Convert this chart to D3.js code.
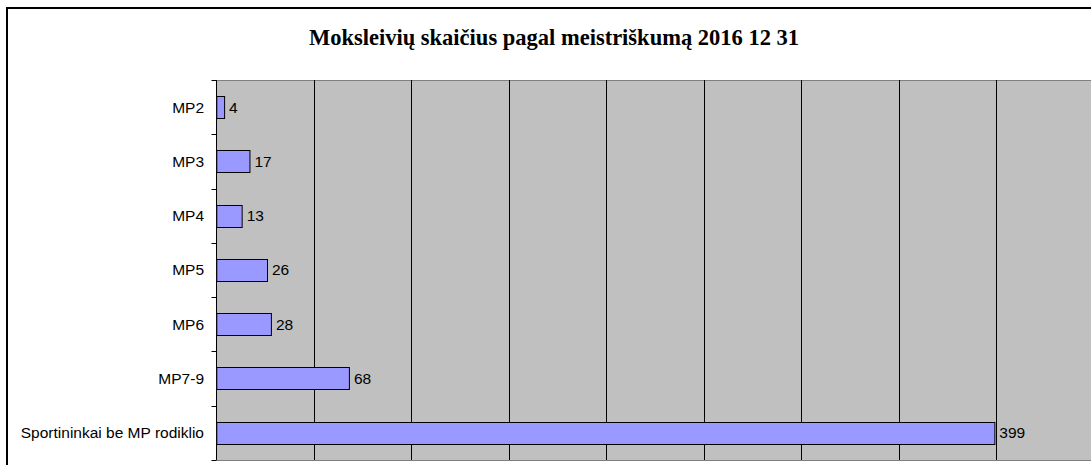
<!DOCTYPE html>
<html>
<head>
<meta charset="utf-8">
<script src="https://d3js.org/d3.v7.min.js"></script>
<style>
  body { margin: 0; background: #fff; }
  svg { display: block; }
</style>
</head>
<body>
<svg></svg>
<script>
// chart data
const categories = ['MP2', 'MP3', 'MP4', 'MP5', 'MP6', 'MP7-9', 'Sportininkai be MP rodiklio'];
const values = [4, 17, 13, 26, 28, 68, 399];
const gridTicks = [50, 100, 150, 200, 250, 300, 350, 400];
const title = 'Moksleivių skaičius pagal meistriškumą 2016 12 31';

const width = 1091, height = 465;
const svg = d3.select('svg').attr('width', width).attr('height', height);

// outer chart frame (runs off the right and bottom edge)
svg.append('rect')
    .attr('x', 7).attr('y', 8)
    .attr('width', width + 20).attr('height', height + 20)
    .attr('fill', '#fff').attr('stroke', '#000').attr('stroke-width', 2);

const plot = { left: 216.3, top: 80, bottom: 460 };

const x = d3.scaleLinear().domain([0, 450]).range([plot.left, plot.left + 877.5]);
const y = d3.scaleBand().domain(categories).range([plot.top, plot.bottom]).paddingInner(0).paddingOuter(0);

// plot background
svg.append('rect')
    .attr('x', x(0)).attr('y', plot.top)
    .attr('width', x(450) - x(0)).attr('height', plot.bottom - plot.top)
    .attr('fill', '#c0c0c0');

svg.append('line')
    .attr('x1', x(0)).attr('x2', width)
    .attr('y1', plot.top + 0.5).attr('y2', plot.top + 0.5)
    .attr('stroke', '#808080');
svg.append('line')
    .attr('x1', x(0)).attr('x2', width)
    .attr('y1', plot.bottom + 0.5).attr('y2', plot.bottom + 0.5)
    .attr('stroke', '#808080');

// vertical gridlines
svg.append('g').selectAll('line')
    .data(gridTicks)
    .join('line')
    .attr('x1', d => Math.round(x(d)) + 0.5).attr('x2', d => Math.round(x(d)) + 0.5)
    .attr('y1', plot.top).attr('y2', plot.bottom)
    .attr('stroke', '#000');

// category axis: line plus ticks on band boundaries
const ga = svg.append('g')
    .attr('transform', 'translate(' + (Math.round(x(0)) + 0.5) + ',0)');
ga.append('line').attr('y1', plot.top).attr('y2', plot.bottom).attr('stroke', '#000');
const bounds = categories.map(c => y(c)).concat([plot.bottom]);
ga.selectAll('.bt')
    .data(bounds)
    .join('line')
    .attr('class', 'bt')
    .attr('x1', -5).attr('x2', 0)
    .attr('y1', d => Math.round(d) + 0.5).attr('y2', d => Math.round(d) + 0.5)
    .attr('stroke', '#000');

svg.append('g').selectAll('text')
    .data(categories)
    .join('text')
    .attr('x', 204)
    .attr('y', d => y(d) + y.bandwidth() / 2)
    .attr('dy', '0.35em')
    .attr('text-anchor', 'end')
    .attr('font-family', 'Liberation Sans, Arial, sans-serif')
    .attr('font-size', 15.5)
    .attr('fill', '#000')
    .text(d => d);

// bars
const barH = y.bandwidth() * 0.41;
svg.append('g').selectAll('rect')
    .data(values)
    .join('rect')
    .attr('x', x(0) + 0.5)
    .attr('y', (d, i) => Math.round(y(categories[i]) + (y.bandwidth() - barH) / 2) + 0.5)
    .attr('width', d => x(d) - x(0))
    .attr('height', Math.round(barH))
    .attr('fill', '#9999ff')
    .attr('stroke', '#000')
    .attr('stroke-width', 1);

// value labels
svg.append('g').selectAll('text')
    .data(values)
    .join('text')
    .attr('x', d => x(d) + 5)
    .attr('y', (d, i) => y(categories[i]) + y.bandwidth() / 2)
    .attr('dy', '0.35em')
    .attr('font-family', 'Liberation Sans, Arial, sans-serif')
    .attr('font-size', 15.5)
    .attr('fill', '#000')
    .text(d => d);

// title
svg.append('text')
    .attr('x', 554).attr('y', 45)
    .attr('text-anchor', 'middle')
    .attr('font-family', 'Liberation Serif, Times New Roman, serif')
    .attr('font-weight', 'bold')
    .attr('font-size', 22.5)
    .attr('fill', '#000')
    .text(title);
</script>
</body>
</html>
